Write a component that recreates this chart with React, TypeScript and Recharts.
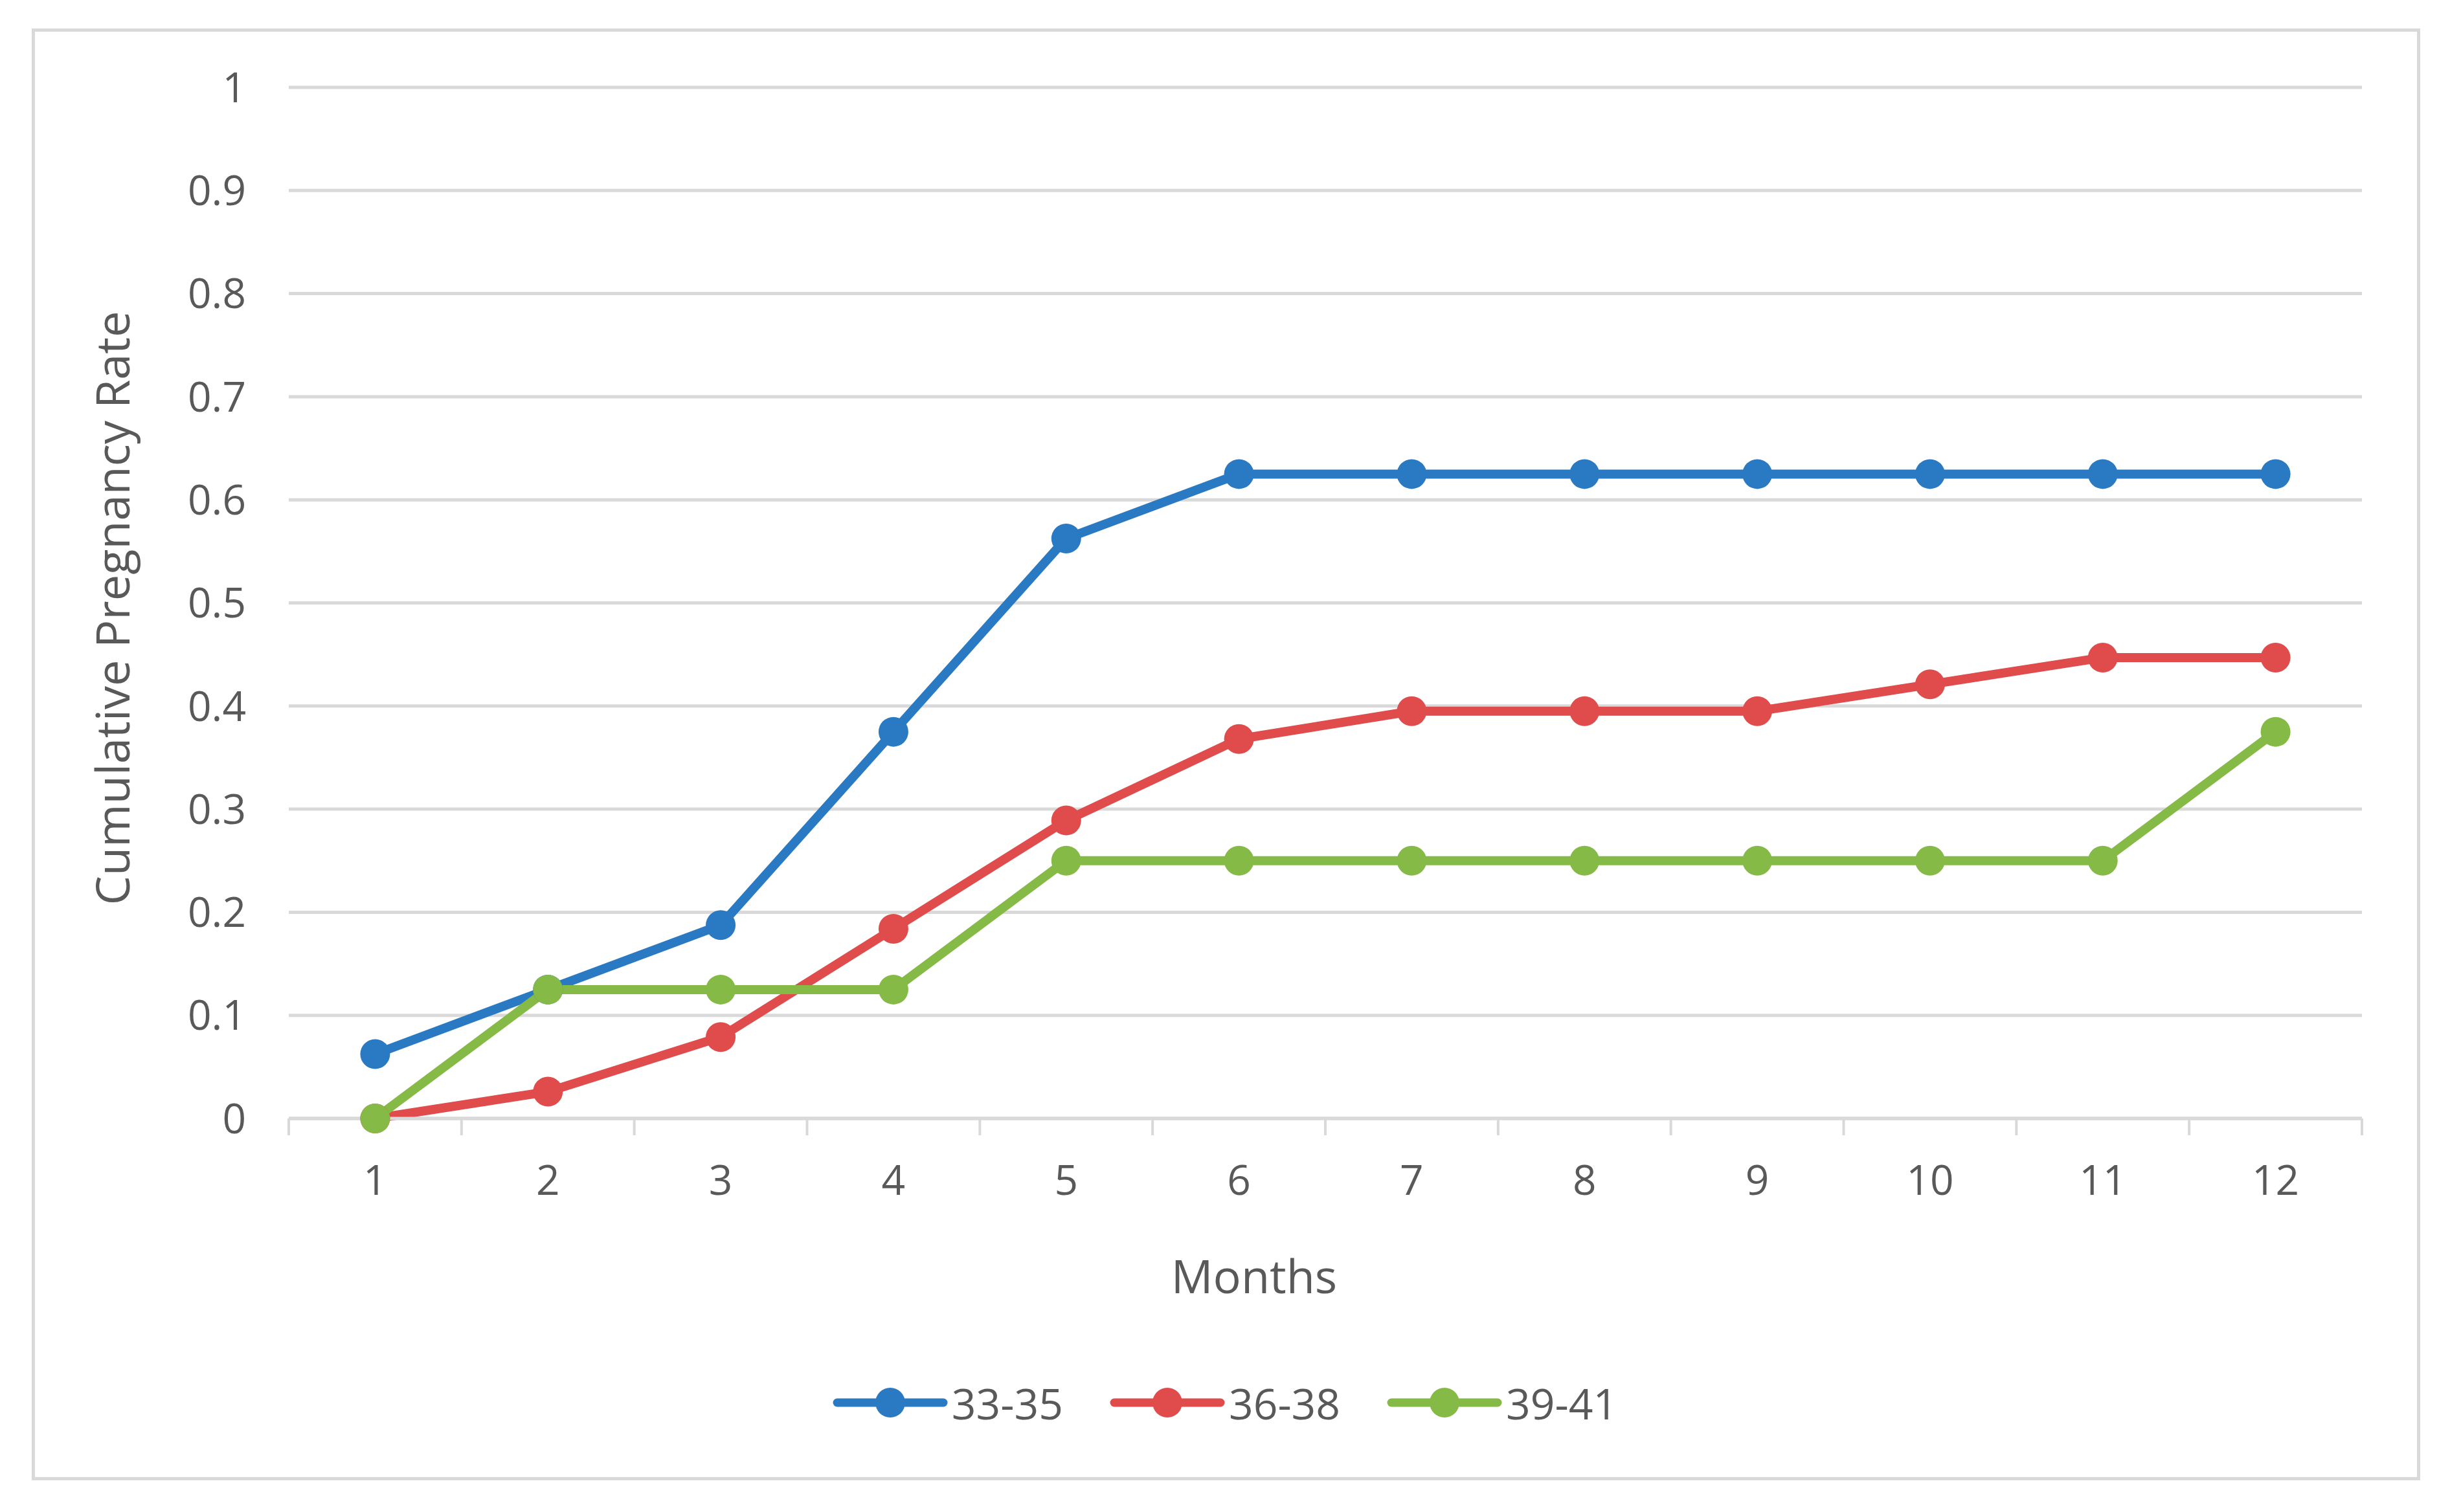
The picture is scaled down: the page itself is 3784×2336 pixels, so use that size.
import { LineChart, Line, XAxis, YAxis, CartesianGrid, Legend } from "recharts";

const months = [1, 2, 3, 4, 5, 6, 7, 8, 9, 10, 11, 12];
const group3335 = [0.0625, 0.125, 0.1875, 0.375, 0.5625, 0.625, 0.625, 0.625, 0.625, 0.625, 0.625, 0.625];
const group3638 = [0, 0.026, 0.079, 0.184, 0.289, 0.368, 0.395, 0.395, 0.395, 0.421, 0.447, 0.447];
const group3941 = [0, 0.125, 0.125, 0.125, 0.25, 0.25, 0.25, 0.25, 0.25, 0.25, 0.25, 0.375];

const yTicks = [0, 0.1, 0.2, 0.3, 0.4, 0.5, 0.6, 0.7, 0.8, 0.9, 1];
// labels sit on whole months, tick marks sit between them
const xTicks = [0.5, 1, 1.5, 2, 2.5, 3, 3.5, 4, 4.5, 5, 5.5, 6, 6.5, 7, 7.5, 8, 8.5, 9, 9.5, 10, 10.5, 11, 11.5, 12, 12.5];

const series = [
  { key: "g1", name: "33-35", color: "#2A7AC3", values: group3335 },
  { key: "g2", name: "36-38", color: "#E04B4B", values: group3638 },
  { key: "g3", name: "39-41", color: "#84BA45", values: group3941 },
];

const data = months.map((m, i) => ({
  month: m,
  g1: group3335[i],
  g2: group3638[i],
  g3: group3941[i],
}));

const FONT = "'Open Sans', sans-serif";
const TEXT = "#595959";
const GRID = "#d9d9d9";
const TICK_GAP = 73;

function MonthTick(props: any) {
  const { x, y, payload } = props;
  const v = payload.value;
  if (v % 1 !== 0) {
    const top = y - TICK_GAP;
    return <line x1={x} x2={x} y1={top} y2={top + 26} stroke={GRID} strokeWidth={4} />;
  }
  return (
    <text x={x} y={y} dy="0.71em" textAnchor="middle" fill={TEXT} fontSize={64} fontFamily={FONT}>
      {v}
    </text>
  );
}

function LegendBox() {
  return (
    <div style={{ display: "flex", justifyContent: "center", alignItems: "center", height: 60, fontFamily: FONT }}>
      {series.map((s) => (
        <div key={s.key} style={{ display: "flex", alignItems: "center", margin: "0 36px" }}>
          <svg width={178} height={50}>
            <line x1={7} x2={171} y1={25} y2={25} stroke={s.color} strokeWidth={13} strokeLinecap="round" />
            <circle cx={89} cy={25} r={23} fill={s.color} />
          </svg>
          <span style={{ fontSize: 66, color: TEXT, marginLeft: 6, lineHeight: "60px" }}>{s.name}</span>
        </div>
      ))}
    </div>
  );
}

export default function App() {
  return (
    <div style={{ position: "absolute", left: 0, top: 0, width: 3784, height: 2336, background: "#fff" }}>
      <div
        style={{
          position: "absolute",
          left: 49,
          top: 44,
          width: 3689,
          height: 2243,
          border: `5px solid ${GRID}`,
          boxSizing: "border-box",
        }}
      />
      <LineChart
        width={3784}
        height={2336}
        data={data}
        margin={{ top: 135, right: 136, bottom: 120, left: 100 }}
        style={{ position: "absolute", left: 0, top: 0 }}
      >
        <CartesianGrid vertical={false} stroke={GRID} strokeWidth={5} />
        <XAxis
          dataKey="month"
          type="number"
          domain={[0.5, 12.5]}
          ticks={xTicks}
          interval={0}
          height={488}
          tickSize={0}
          tickMargin={TICK_GAP}
          tickLine={false}
          axisLine={{ stroke: GRID, strokeWidth: 5 }}
          tick={<MonthTick />}
          label={{
            value: "Months",
            position: "center",
            dx: -110,
            style: { fontSize: 72, fontFamily: FONT, fill: TEXT },
          }}
        />
        <YAxis
          type="number"
          domain={[0, 1]}
          ticks={yTicks}
          interval={0}
          width={346}
          axisLine={false}
          tickLine={false}
          tickSize={0}
          tickMargin={66}
          tick={{ fontSize: 64, fontFamily: FONT, fill: TEXT }}
          label={{
            value: "Cumulative Pregnancy Rate",
            angle: -90,
            position: "center",
            dx: -99,
            dy: 8,
            style: { fontSize: 72, fontFamily: FONT, fill: TEXT },
          }}
        />
        {series.map((s) => (
          <Line
            key={s.key}
            type="linear"
            dataKey={s.key}
            name={s.name}
            stroke={s.color}
            strokeWidth={14}
            strokeLinejoin="round"
            dot={{ r: 23, fill: s.color, stroke: "none" }}
            activeDot={false}
            isAnimationActive={false}
          />
        ))}
        <Legend
          layout="horizontal"
          align="center"
          verticalAlign="middle"
          content={() => <LegendBox />}
          wrapperStyle={{ top: 2137, left: 0, width: 3784 }}
        />
      </LineChart>
    </div>
  );
}
